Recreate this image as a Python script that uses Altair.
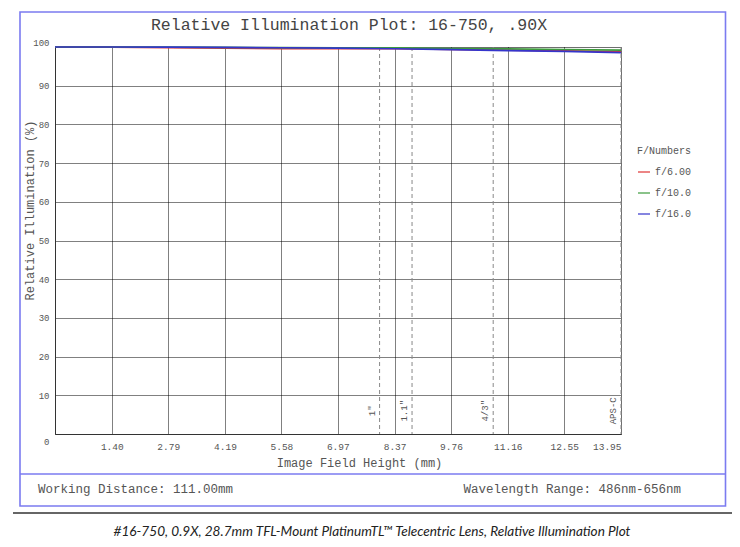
import altair as alt
import pandas as pd

# ---------------- data ----------------
field_height = [0, 1.40, 2.79, 4.19, 5.58, 6.97, 8.37, 9.76, 11.16, 12.55, 13.95]
ri_f6 = [100, 99.95, 99.8, 99.7, 99.6, 99.6, 99.55, 99.35, 99.2, 99.0, 98.8]
ri_f10 = [100, 100, 99.95, 99.9, 99.85, 99.8, 99.75, 99.6, 99.5, 99.35, 99.2]
ri_f16 = [100, 100, 99.95, 99.9, 99.8, 99.7, 99.55, 99.3, 99.05, 98.85, 98.55]
series_names = ["f/6.00", "f/10.0", "f/16.0"]
series_colors = ["#e03535", "#3c9c3c", "#3535cc"]

x_ticks = [1.40, 2.79, 4.19, 5.58, 6.97, 8.37, 9.76, 11.16, 12.55, 13.95]
y_ticks = [0, 10, 20, 30, 40, 50, 60, 70, 80, 90, 100]

sensor_pos = [8.0, 8.8, 10.8, 13.95]
sensor_names = ['1"', '1.1"', '4/3"', 'APS-C']

title_text = "Relative Illumination Plot: 16-750, .90X"
footer_left = "Working Distance: 111.00mm"
footer_right = "Wavelength Range: 486nm-656nm"
caption_text = "#16-750, 0.9X, 28.7mm TFL-Mount PlatinumTL\u2122 Telecentric Lens, Relative Illumination Plot"

MONO = "Liberation Mono"
GREY = "#555555"
BOX = "#7b7bf0"

rows = []
for name, vals in zip(series_names, [ri_f6, ri_f10, ri_f16]):
    for xv, yv in zip(field_height, vals):
        rows.append({"x": xv, "ri": yv, "series": name})
df = pd.DataFrame(rows)
df_sensor = pd.DataFrame({"pos": sensor_pos, "name": sensor_names})
one = pd.DataFrame({"a": [0]})

x_scale = alt.Scale(domain=[0, 13.95], nice=False, zero=False)
y_scale = alt.Scale(domain=[0, 100], nice=False, zero=False)

x_axis = alt.Axis(
    values=x_ticks, format=".2f", ticks=False, labelPadding=7,
    labelFont=MONO, labelFontSize=9.5, labelColor=GREY,
    grid=True, gridDash=[1, 1], gridColor="#000000", gridOpacity=1,
    domainColor="#333333",
    title="Image Field Height (mm)", titleFont=MONO, titleFontSize=12,
    titleFontWeight="normal", titleColor=GREY,
    titleX=304, titleY=28, titleBaseline="middle", titleAlign="center",
)
y_axis = alt.Axis(
    values=y_ticks, format="d", ticks=False, labelPadding=6, labelOverlap=False,
    labelFont=MONO, labelFontSize=9, labelColor=GREY,
    labelBaseline={"condition": [{"test": "datum.value == 0", "value": "top"},
                                 {"test": "datum.value == 100", "value": "bottom"}],
                   "value": "middle"},
    labelOffset={"condition": {"test": "datum.value == 0", "value": 3}, "value": 0},
    grid=True, gridDash=[1, 1], gridColor="#000000", gridOpacity=1,
    domainColor="#333333",
    title="Relative Illumination (%)", titleFont=MONO, titleFontSize=12,
    titleFontWeight="normal", titleColor=GREY,
    titleX=-26, titleY=163, titleAngle=270, titleBaseline="middle", titleAlign="center",
)

x_enc = alt.X("x:Q", scale=x_scale, axis=x_axis)
y_enc = alt.Y("ri:Q", scale=y_scale, axis=y_axis)
color_enc = alt.Color(
    "series:N",
    scale=alt.Scale(domain=series_names, range=series_colors),
    legend=alt.Legend(
        title="F/Numbers", orient="none", legendX=582, legendY=99,
        titleFont=MONO, titleFontSize=10, titleFontWeight="normal", titleColor=GREY,
        titlePadding=9, labelFont=MONO, labelFontSize=10, labelColor=GREY,
        symbolType="stroke", symbolSize=144, symbolStrokeWidth=1.5, symbolOpacity=0.8,
        labelOffset=4, rowPadding=9, padding=0,
    ),
)

layers = []
for name in series_names:
    layers.append(
        alt.Chart(df).transform_filter(alt.datum.series == name)
        .mark_line(strokeWidth=1.7)
        .encode(x=x_enc, y=y_enc, color=color_enc)
    )

sensor_rules = alt.Chart(df_sensor).mark_rule(
    color="#888888", strokeDash=[4, 3], strokeWidth=1
).encode(x=alt.X("pos:Q", scale=x_scale, axis=x_axis))

sensor_labels = alt.Chart(df_sensor).mark_text(
    angle=270, align="center", baseline="middle", dy=-8,
    font=MONO, fontSize=9, color=GREY
).encode(
    x=alt.X("pos:Q", scale=x_scale, axis=x_axis),
    y=alt.YDatum(6, type="quantitative", scale=y_scale, axis=y_axis),
    text="name:N",
)

title_mark = alt.Chart(one).mark_text(
    font=MONO, fontSize=16.5, color="#444444", align="center", baseline="middle"
).encode(x=alt.value(294), y=alt.value(-22), text=alt.value(title_text))

outer_box = alt.Chart(one).mark_rect(
    filled=False, stroke=BOX, strokeWidth=1.6
).encode(x=alt.value(-35), x2=alt.value(670.5), y=alt.value(-35), y2=alt.value(459))

divider = alt.Chart(one).mark_rule(color=BOX, strokeWidth=1.6).encode(
    x=alt.value(-35), x2=alt.value(670.5), y=alt.value(427))

black_rule = alt.Chart(one).mark_rule(color="#333333", strokeWidth=1.5).encode(
    x=alt.value(-42), x2=alt.value(677), y=alt.value(466))

foot_l = alt.Chart(one).mark_text(
    font=MONO, fontSize=12.5, color=GREY, align="left", baseline="middle"
).encode(x=alt.value(-17), y=alt.value(442), text=alt.value(footer_left))

foot_r = alt.Chart(one).mark_text(
    font=MONO, fontSize=12.5, color=GREY, align="right", baseline="middle"
).encode(x=alt.value(626), y=alt.value(442), text=alt.value(footer_right))

caption = alt.Chart(one).mark_text(
    font="Lato", fontSize=13.6, fontStyle="italic", color="#222222",
    align="center", baseline="middle"
).encode(x=alt.value(317), y=alt.value(485), text=alt.value(caption_text))

chart = alt.layer(
    sensor_rules, *layers, sensor_labels, title_mark, outer_box, divider,
    black_rule, foot_l, foot_r, caption
).properties(
    width=566, height=387,
    padding={"left": 47, "top": 39, "right": 111, "bottom": 105},
    autosize=alt.AutoSizeParams(type="none"),
).configure_view(stroke=None).configure(background="white")

chart.save("out.html", embed_options={"renderer": "svg", "actions": False})
